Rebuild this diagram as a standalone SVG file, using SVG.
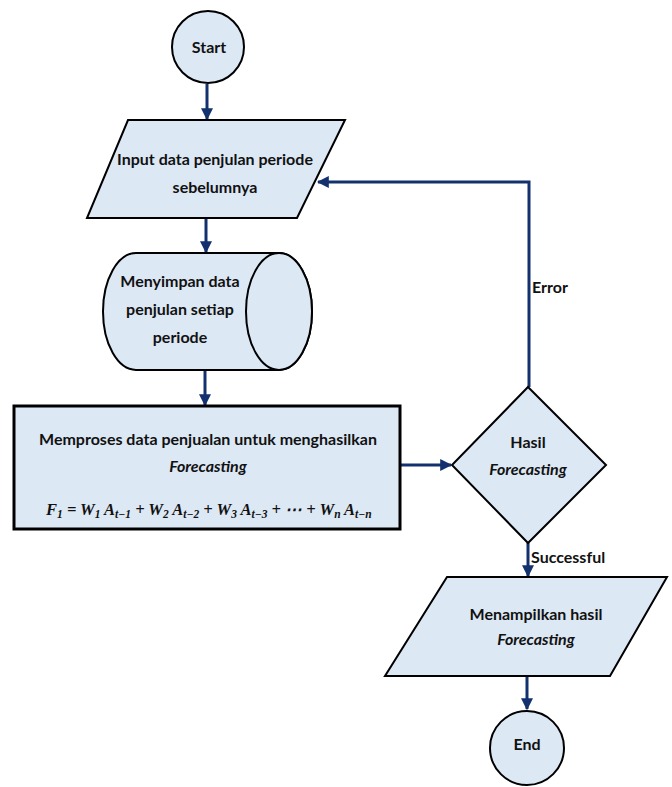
<svg xmlns="http://www.w3.org/2000/svg" width="672" height="787" viewBox="0 0 672 787">
<defs>
<style>
.shape{fill:#dde8f5;stroke:#000;stroke-width:2}
.t{font-family:Lato,"Open Sans","Liberation Sans",sans-serif;font-size:16px;font-weight:bold;fill:#111;text-anchor:middle}
.i{font-style:italic}
.lbl{font-family:Lato,"Open Sans","Liberation Sans",sans-serif;font-size:16px;font-weight:bold;fill:#111}
.c{fill:none;stroke:#13316f;stroke-width:3}
.m{font-family:"Liberation Serif","DejaVu Serif",serif;font-weight:bold;font-style:italic;font-size:16.5px;fill:#111}
.s{font-size:11.5px}
</style>
<marker id="ah" viewBox="0 0 10 10" refX="9" refY="5" markerWidth="4" markerHeight="4" orient="auto" markerUnits="strokeWidth">
<path d="M0,0 L10,5 L0,10 Z" fill="#13316f"/>
</marker>
</defs>
<g id="connectors">
<path class="c" d="M207,84 V119" marker-end="url(#ah)"/>
<path class="c" d="M206,218 V252" marker-end="url(#ah)"/>
<path class="c" d="M205,370 V405" marker-end="url(#ah)"/>
<path class="c" d="M401,465 H451" marker-end="url(#ah)"/>
<path class="c" d="M529,387 V182 H318" marker-end="url(#ah)"/>
<path class="c" d="M528,543 V576" marker-end="url(#ah)"/>
<path class="c" d="M527,676 V709" marker-end="url(#ah)"/>
<text class="lbl" x="532" y="293">Error</text>
<text class="lbl" x="531" y="563">Successful</text>
</g>
<g id="start">
<circle class="shape" cx="208" cy="47" r="36"/>
<text class="t" x="209" y="53">Start</text>
</g>
<g id="input">
<path class="shape" d="M128,120 H345 L297,218 H87 Z"/>
<text class="t" x="215" y="165">Input data penjulan periode</text>
<text class="t" x="215" y="193">sebelumnya</text>
</g>
<g id="store">
<path class="shape" d="M136,253 H279 A33,58.5 0 0 1 279,370 H136 A33,58.5 0 0 1 136,253 Z"/>
<ellipse class="shape" cx="279" cy="311.5" rx="33" ry="58.5"/>
<text class="t" x="180" y="287">Menyimpan data</text>
<text class="t" x="180" y="315">penjulan setiap</text>
<text class="t" x="180" y="343">periode</text>
</g>
<g id="process">
<rect class="shape" x="14" y="406" width="386" height="123" style="stroke-width:3"/>
<text class="t" x="208" y="445">Memproses data penjualan untuk menghasilkan</text>
<text class="t i" x="208" y="472">Forecasting</text>
<text class="m" x="46" y="515">F<tspan class="s" dy="3">1</tspan><tspan dy="-3"> =  W</tspan><tspan class="s" dy="3">1</tspan><tspan dy="-3"> A</tspan><tspan class="s" dy="3">t−1</tspan><tspan dy="-3"> + W</tspan><tspan class="s" dy="3">2</tspan><tspan dy="-3"> A</tspan><tspan class="s" dy="3">t−2</tspan><tspan dy="-3"> + W</tspan><tspan class="s" dy="3">3</tspan><tspan dy="-3"> A</tspan><tspan class="s" dy="3">t−3</tspan><tspan dy="-3"> + ⋯ + W</tspan><tspan class="s" dy="3">n</tspan><tspan dy="-3"> A</tspan><tspan class="s" dy="3">t−n</tspan></text>
</g>
<g id="decision">
<path class="shape" d="M528,387 L606,465 L528,543 L452,465 Z"/>
<text class="t" x="528" y="448">Hasil</text>
<text class="t i" x="528" y="475">Forecasting</text>
</g>
<g id="output">
<path class="shape" d="M447,577 H667 L610,676 H385 Z"/>
<text class="t" x="536" y="620">Menampilkan hasil</text>
<text class="t i" x="536" y="645">Forecasting</text>
</g>
<g id="end">
<circle class="shape" cx="527" cy="748" r="37"/>
<text class="t" x="527" y="750">End</text>
</g>
</svg>
